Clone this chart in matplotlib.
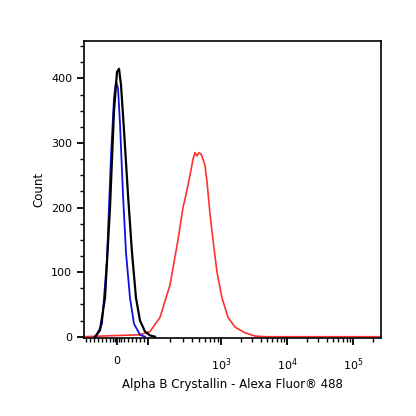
import numpy as np
import matplotlib
matplotlib.use("Agg")
import matplotlib.pyplot as plt

# x in display channel units (0..297), y in counts
black_x = [11, 16, 21, 26, 30, 33, 35, 37, 40, 44, 48, 52, 56, 61, 66, 71]
black_y = [0, 10, 60, 200, 350, 410, 415, 390, 320, 220, 130, 60, 25, 8, 2, 0]
blue_x = [12, 18, 23, 27, 30, 32, 34, 36, 39, 42, 46, 50, 56, 61]
blue_y = [0, 20, 120, 280, 370, 395, 385, 330, 220, 130, 60, 20, 3, 0]
red_x = [0, 36, 56, 66, 76, 86, 94, 99, 102, 106, 109, 111, 113, 115, 117, 119, 121, 123, 126, 129, 133, 138, 144, 151, 161, 171, 181, 297]
red_y = [0, 2, 3, 8, 30, 80, 150, 200, 220, 250, 275, 285, 280, 285, 283, 275, 265, 240, 190, 150, 100, 60, 30, 15, 6, 1, 0, 0]
xtick_pos = [33, 137, 203, 269]
xtick_lab = ["0", "$10^3$", "$10^4$", "$10^5$"]
ytick_pos = [0, 100, 200, 300, 400]

fig = plt.figure(figsize=(4.16, 4.16), dpi=100)
ax = fig.add_axes([84/416, 1-338/416, 297/416, 297/416])
ax.plot(red_x, red_y, color="#ff3030", lw=1.2)
ax.plot(blue_x, blue_y, color="#1010e0", lw=1.3)
ax.plot(black_x, black_y, color="black", lw=1.6)
ax.set_xlim(0, 297)
ax.set_ylim(-2, 458)
ax.set_xticks(xtick_pos + [64])
ax.set_xticklabels(xtick_lab + [""], fontsize=8)
minor = [2, 6, 10, 14, 18, 22, 26, 29, 31, 35, 37, 40, 44, 48, 52, 56, 60]
for a, b in [(64, 137), (137, 203), (203, 269), (269, 335)]:
    for k in range(2, 10):
        p = a + (b - a) * np.log10(k)
        if p < 297:
            minor.append(p)
ax.set_xticks(minor, minor=True)
ax.set_yticks(ytick_pos)
ax.set_yticks(np.arange(0, 457, 25), minor=True)
for s in ax.spines.values():
    s.set_linewidth(1.2)
ax.tick_params(axis="y", labelsize=8, length=5, width=1.3)
ax.tick_params(axis="x", length=5, width=1.3, pad=8)
ax.tick_params(which="minor", length=3, width=1)
ax.set_xlabel("Alpha B Crystallin - Alexa Fluor® 488", fontsize=8.5)
ax.set_ylabel("Count", fontsize=8.5)
fig.savefig("out.png", dpi=100)
